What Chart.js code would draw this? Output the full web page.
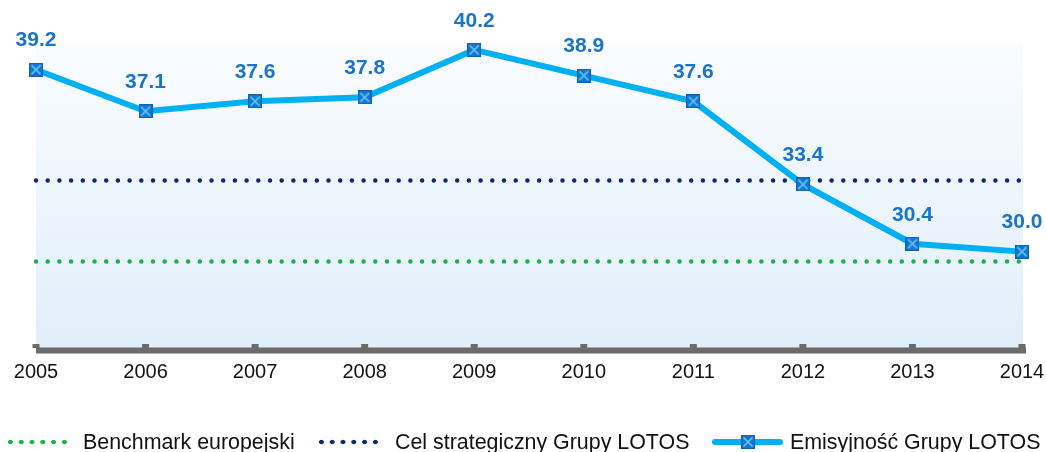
<!DOCTYPE html>
<html>
<head>
<meta charset="utf-8">
<script src="https://cdn.jsdelivr.net/npm/chart.js@4"></script>
<style>
  html, body { margin: 0; padding: 0; background: #fff; }
  #wrap { position: relative; width: 1046px; height: 452px; font-family: "Liberation Sans", Arial, sans-serif; }
  #chart { position: absolute; left: 0; top: 0; }
  .lg { position: absolute; top: 431px; height: 22px; display: flex; align-items: center; font-size: 21.4px; color: #111; white-space: nowrap; }
  .dots { display: inline-block; height: 6px; }
  .swatch { position: relative; display: inline-block; width: 71px; height: 14px; }
  .swatch .bar { position: absolute; left: 0; right: 0; top: 4px; height: 6px; border-radius: 3px; background: #00b0f0; }
  .swatch canvas { position: absolute; left: 29px; top: 0; }
</style>
</head>
<body>
<div id="wrap">
  <canvas id="chart" width="1046" height="452"></canvas>
  <div class="lg" style="left:5px"><span class="dots" style="width:66px;background:radial-gradient(circle,#1db04b 2.1px,transparent 2.6px) 0 0/10.8px 6px repeat-x"></span><span style="margin-left:12px">Benchmark europejski</span></div>
  <div class="lg" style="left:316px"><span class="dots" style="width:66px;background:radial-gradient(circle,#10296b 2.1px,transparent 2.6px) 0 0/10.8px 6px repeat-x"></span><span style="margin-left:13px">Cel strategiczny Grupy LOTOS</span></div>
  <div class="lg" style="left:712px"><span class="swatch" id="lineSwatch"><span class="bar"></span></span><span style="margin-left:7px">Emisyjność Grupy LOTOS</span></div>
</div>
<script>
'use strict';

// ── data ─────────────────────────────────────────────────────────────────────

const YEARS     = ['2005', '2006', '2007', '2008', '2009', '2010', '2011', '2012', '2013', '2014'];
const EMISSION  = [39.2, 37.1, 37.6, 37.8, 40.2, 38.9, 37.6, 33.4, 30.4, 30.0];
const TARGET    = [33.6, 33.6, 33.6, 33.6, 33.6, 33.6, 33.6, 33.6, 33.6, 33.6];
const BENCHMARK = [29.5, 29.5, 29.5, 29.5, 29.5, 29.5, 29.5, 29.5, 29.5, 29.5];
const Y_MIN = 25;
const Y_MAX = 40.6;

// ── marker ───────────────────────────────────────────────────────────────────

function makeMarker() {
  const c = document.createElement('canvas');
  c.width = 14; c.height = 14;
  const g = c.getContext('2d');
  g.fillStyle = '#1676cf';
  g.fillRect(0, 0, 14, 14);
  g.strokeStyle = '#0c62b5';
  g.lineWidth = 1;
  g.strokeRect(0.5, 0.5, 13, 13);
  g.strokeStyle = '#62cbf6';
  g.lineWidth = 1.6;
  g.beginPath();
  g.moveTo(2.5, 2.5); g.lineTo(11.5, 11.5);
  g.moveTo(11.5, 2.5); g.lineTo(2.5, 11.5);
  g.stroke();
  return c;
}
const marker = makeMarker();
document.getElementById('lineSwatch').appendChild(makeMarker());

// ── plugins ──────────────────────────────────────────────────────────────────

const backdrop = {
  id: 'backdrop',
  beforeDatasetsDraw(chart) {
    const { ctx, chartArea: a } = chart;
    const grad = ctx.createLinearGradient(0, a.top, 0, a.bottom);
    grad.addColorStop(0, '#fafcff');
    grad.addColorStop(1, '#e0eefa');
    ctx.save();
    ctx.fillStyle = grad;
    ctx.fillRect(a.left, a.top, a.right - a.left + 1, a.bottom - a.top);

    // axis line with small ticks
    const x = chart.scales.x;
    ctx.fillStyle = '#6b6b6b';
    ctx.fillRect(a.left, a.bottom - 3, a.right - a.left + 4, 6);
    YEARS.forEach((_, i) => {
      const px = x.getPixelForValue(i);
      ctx.fillRect(px - 3.5, a.bottom - 6.5, 7, 4);
    });
    ctx.restore();
  },
};

const valueLabels = {
  id: 'valueLabels',
  afterDatasetsDraw(chart) {
    const { ctx } = chart;
    const meta = chart.getDatasetMeta(0);
    ctx.save();
    ctx.fillStyle = '#1a74c7';
    ctx.font = 'bold 21px "Liberation Sans", Arial, sans-serif';
    ctx.textAlign = 'center';
    ctx.textBaseline = 'middle';
    meta.data.forEach((pt, i) => {
      ctx.fillText(EMISSION[i].toFixed(1), pt.x, pt.y - 29);
    });
    ctx.restore();
  },
};

// ── chart ────────────────────────────────────────────────────────────────────

const dotted = (data, color, order) => ({
  data, order,
  borderColor: color, borderWidth: 4.5,
  borderDash: [0, 11.7], borderCapStyle: 'round',
  pointRadius: 0, fill: false, clip: false,
});

new Chart(document.getElementById('chart'), {
  type: 'line',
  data: {
    labels: YEARS,
    datasets: [
      {
        data: EMISSION, order: 0,
        borderColor: '#00b0f0', borderWidth: 6,
        pointStyle: marker, pointRadius: 7,
        tension: 0, fill: false, clip: false,
      },
      dotted(TARGET, '#10296b', 1),
      dotted(BENCHMARK, '#1db04b', 2),
    ],
  },
  options: {
    responsive: false, animation: false,
    layout: { padding: { top: 42, left: 36, right: 24, bottom: 57.5 } },
    plugins: { legend: { display: false }, tooltip: { enabled: false } },
    scales: {
      x: {
        grid: { display: false, drawTicks: false },
        border: { display: false },
        afterFit(s) { s.paddingLeft = 0; s.paddingRight = 0; },
        ticks: {
          padding: 10, color: '#111', maxRotation: 0, autoSkip: false,
          font: { family: '"Liberation Sans", Arial, sans-serif', size: 20 },
        },
      },
      y: { display: false, min: Y_MIN, max: Y_MAX },
    },
  },
  plugins: [backdrop, valueLabels],
});
</script>
</body>
</html>
